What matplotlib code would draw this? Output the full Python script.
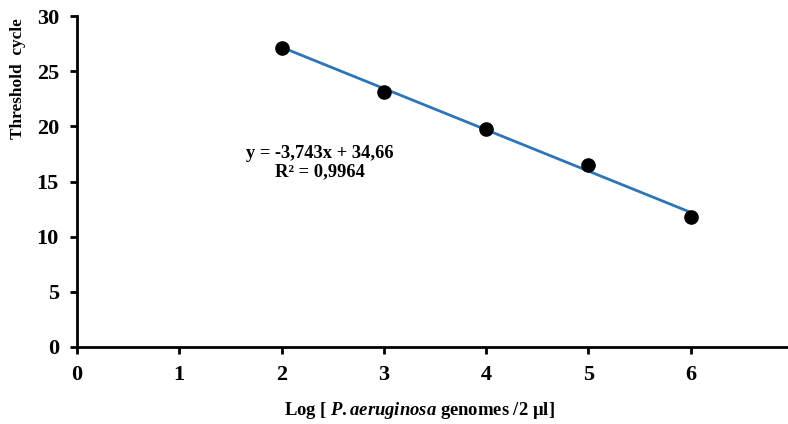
import matplotlib.pyplot as plt
import numpy as np

# data
log_genomes = [2, 3, 4, 5, 6]
threshold_cycle = [27.1, 23.1, 19.8, 16.5, 11.8]
slope = -3.743
intercept = 34.66

plt.rcParams['font.family'] = ['Liberation Serif', 'DejaVu Serif']
plt.rcParams['font.weight'] = 'bold'
plt.rcParams['mathtext.fontset'] = 'custom'
plt.rcParams['mathtext.it'] = 'Liberation Serif:italic:bold'
plt.rcParams['mathtext.rm'] = 'Liberation Serif:bold'
plt.rcParams['mathtext.bf'] = 'Liberation Serif:bold'

fig = plt.figure(figsize=(7.88, 4.24), dpi=100)
ax = fig.add_axes([77/788, 77/424, 716/788, 331/424])

xfit = np.array([log_genomes[0], log_genomes[-1]])
ax.plot(xfit, slope*xfit + intercept, color='#2E75B6', lw=2, zorder=2)
ax.plot(log_genomes, threshold_cycle, 'o', color='black', ms=9.5, zorder=3)

ax.set_xlim(0, 7)
ax.set_ylim(0, 30)
ax.set_xticks(range(0, 8))
ax.set_yticks(range(0, 31, 5))
for s in ['top', 'right']:
    ax.spines[s].set_visible(False)
for s in ['left', 'bottom']:
    ax.spines[s].set_linewidth(2)
ax.tick_params(width=2, length=5, labelsize=16)
ax.tick_params(axis='x', pad=8)
ax.tick_params(axis='y', pad=8)
for lab in ax.get_xticklabels() + ax.get_yticklabels():
    lab.set_fontweight('bold')

ax.set_ylabel('Threshold  cycle', fontsize=12.4, fontweight='bold')
ax.yaxis.set_label_coords(-51/716, 0.81)
ax.set_xlabel('Log [ $\\mathit{P. aeruginosa}$ genomes /2 µl]',
              fontsize=13.4, fontweight='bold')
ax.xaxis.set_label_coords((419 - 77)/716, -0.16)

ax.text(2.375, 16.7, 'y = -3,743x + 34,66\nR² = 0,9964', ha='center', va='center',
        fontsize=13.3, fontweight='bold', multialignment='center', linespacing=1.15)

fig.savefig('out.png', dpi=100)
